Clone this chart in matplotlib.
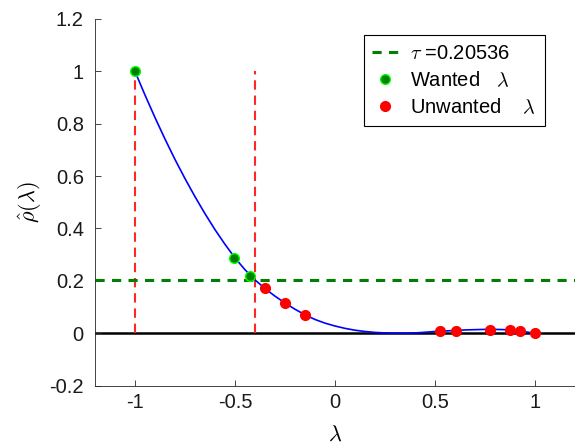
import numpy as np
import matplotlib.pyplot as plt

plt.rcParams['font.family'] = ['Liberation Sans', 'DejaVu Sans']
plt.rcParams['mathtext.fontset'] = 'cm'

# filter curve
lam_curve = [-1.00, -0.95, -0.90, -0.85, -0.80, -0.75, -0.70, -0.65, -0.60, -0.55,
             -0.50, -0.45, -0.40, -0.35, -0.30, -0.25, -0.20, -0.15, -0.10, -0.05,
             0.00, 0.05, 0.10, 0.15, 0.20, 0.25, 0.30, 0.35, 0.40, 0.45,
             0.50, 0.55, 0.60, 0.65, 0.70, 0.75, 0.80, 0.85, 0.90, 0.95, 1.00]
rho_curve = [1.000, 0.910, 0.824, 0.742, 0.664, 0.591, 0.522, 0.457, 0.396, 0.340,
             0.288, 0.243, 0.204, 0.171, 0.142, 0.116, 0.092, 0.071, 0.053, 0.039,
             0.028, 0.019, 0.012, 0.007, 0.0035, 0.0015, 0.0005, 0.0004, 0.0015, 0.004,
             0.007, 0.009, 0.011, 0.013, 0.014, 0.015, 0.015, 0.014, 0.011, 0.006, 0.000]

# eigenvalues
wanted_lam = [-1.0, -0.505, -0.425]
wanted_rho = [1.0, 0.287, 0.218]
unwanted_lam = [-0.35, -0.25, -0.15, 0.525, 0.603, 0.775, 0.875, 0.925, 1.0]
unwanted_rho = [0.172, 0.115, 0.070, 0.008, 0.010, 0.014, 0.011, 0.010, 0.0]

tau = 0.20536
interval = [-1.0, -0.4]

fig = plt.figure(figsize=(5.75, 4.47), dpi=100)
ax = fig.add_axes([0.165, 0.137, 0.835, 0.821])

ax.axhline(0, color='black', lw=1.8, zorder=1)
ax.vlines(interval, 0, 1, colors=(1, 0.15, 0.15), linestyles=(0, (4.5, 2.8)), lw=1.5, zorder=2)
ax.plot(lam_curve, rho_curve, color='blue', lw=1.2, zorder=3, solid_joinstyle='round')
ax.axhline(tau, color=(0, 0.5, 0), lw=2.2, ls=(0, (3.0, 2.4)), zorder=2,
           label=r'$\tau$ =0.20536')
ax.plot(wanted_lam, wanted_rho, 'o', ms=7, mfc=(0, 0.5, 0), mec=(0, 1, 0), mew=1,
        zorder=4, label=r'Wanted   $\lambda$')
ax.plot(unwanted_lam, unwanted_rho, 'o', ms=7, mfc='red', mec='red',
        zorder=4, label=r'Unwanted    $\lambda$')

ax.set_xlim(-1.2, 1.2)
ax.set_ylim(-0.2, 1.2)
ax.set_xticks([-1, -0.5, 0, 0.5, 1])
ax.set_xticklabels(['-1', '-0.5', '0', '0.5', '1'])
ax.set_yticks([-0.2, 0, 0.2, 0.4, 0.6, 0.8, 1, 1.2])
ax.set_yticklabels(['-0.2', '0', '0.2', '0.4', '0.6', '0.8', '1', '1.2'])
ax.tick_params(direction='in', length=4, labelsize=14.5, colors=(0.15, 0.15, 0.15),
               labelcolor=(0.1, 0.1, 0.1), width=0.6, pad=5)
ax.tick_params(axis='y', pad=8)
for s in ['top', 'right']:
    ax.spines[s].set_visible(False)
for s in ['left', 'bottom']:
    ax.spines[s].set_color((0.15, 0.15, 0.15))
    ax.spines[s].set_linewidth(0.6)

ax.set_xlabel(r'$\lambda$', fontsize=16, labelpad=9)
ax.set_ylabel(r'$\hat{\rho}(\lambda)$', fontsize=16, labelpad=4)

leg = ax.legend(loc='upper right', bbox_to_anchor=(0.9375, 0.955), fontsize=14.5,
                fancybox=False, edgecolor='black', framealpha=1, handlelength=1.3,
                handletextpad=0.6, borderpad=0.42, labelspacing=0.38, borderaxespad=0)
leg.get_frame().set_linewidth(0.8)

fig.savefig('out.png', dpi=100)
